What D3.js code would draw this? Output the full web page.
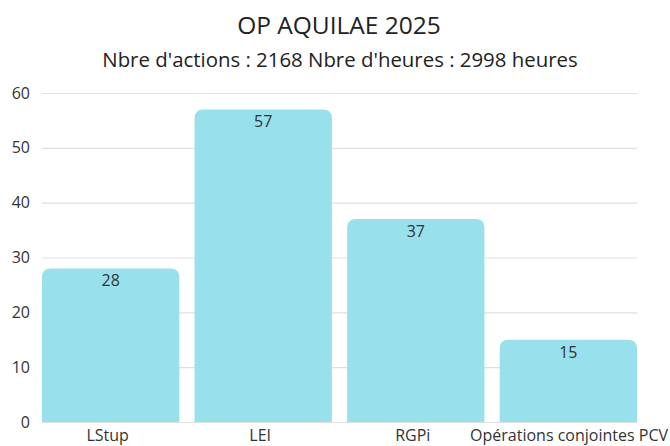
<!DOCTYPE html>
<html><head><meta charset="utf-8">
<script src="https://cdn.jsdelivr.net/npm/d3@7"></script>
<style>body{margin:0;background:#fff}svg{display:block;font-family:"Open Sans",sans-serif}</style>
</head><body><svg id="c" width="670" height="446"></svg>
<script>
const categories = ["LStup", "LEI", "RGPi", "Opérations conjointes PCV"];
const values = [28, 57, 37, 15];
const yTicks = [0, 10, 20, 30, 40, 50, 60];
const title = "OP AQUILAE 2025";
const subtitle = "Nbre d'actions : 2168 Nbre d'heures : 2998 heures";

const svg = d3.select("#c");
const m = {left: 42, right: 33, top: 93, bottom: 24};
const W = 670, H = 446;
const x = d3.scaleBand().domain(categories).range([m.left, W - m.right]).paddingInner(0.1).paddingOuter(0);
const y = d3.scaleLinear().domain([0, 60]).range([H - m.bottom, m.top]);

svg.append("text").attr("x", 339).attr("y", 34).attr("text-anchor", "middle")
  .attr("font-size", 24.5).attr("fill", "#222").text(title);
svg.append("text").attr("x", 340).attr("y", 67).attr("text-anchor", "middle")
  .attr("font-size", 20.4).attr("fill", "#222").text(subtitle);

// grid
const yAxis = d3.axisLeft(y).tickValues(yTicks).tickSize(-(W - m.left - m.right)).tickPadding(12);
const ga = svg.append("g").attr("transform", `translate(${m.left},0)`).call(yAxis);
ga.select(".domain").remove();
ga.selectAll(".tick line").attr("stroke", "#e0e0e0").attr("stroke-width", 1.2);
ga.selectAll(".tick text").attr("font-size", 16).attr("fill", "#333").attr("font-family", "Open Sans");

const r = 9;
function barPath(x0, y0, w, y1) {
  const rr = Math.min(r, (y1 - y0));
  return `M${x0},${y1}V${y0 + rr}Q${x0},${y0} ${x0 + rr},${y0}H${x0 + w - rr}Q${x0 + w},${y0} ${x0 + w},${y0 + rr}V${y1}Z`;
}
svg.append("g").selectAll("path").data(categories).join("path")
  .attr("d", (d, i) => barPath(x(d), y(values[i]), x.bandwidth(), y(0)))
  .attr("fill", "#98e0eb");

svg.append("g").selectAll("text").data(categories).join("text")
  .attr("x", d => x(d) + x.bandwidth() / 2)
  .attr("y", (d, i) => y(values[i]) + 18)
  .attr("text-anchor", "middle").attr("font-size", 16).attr("fill", "#333")
  .text((d, i) => values[i]);

// x labels
svg.append("g").selectAll("text").data(categories).join("text")
  .attr("y", 441).attr("font-size", 16).attr("fill", "#333")
  .attr("x", (d, i) => i === categories.length - 1 ? 668 : x(d) + x.bandwidth() / 2 - 3)
  .attr("text-anchor", (d, i) => i === categories.length - 1 ? "end" : "middle")
  .text(d => d);
</script></body></html>
